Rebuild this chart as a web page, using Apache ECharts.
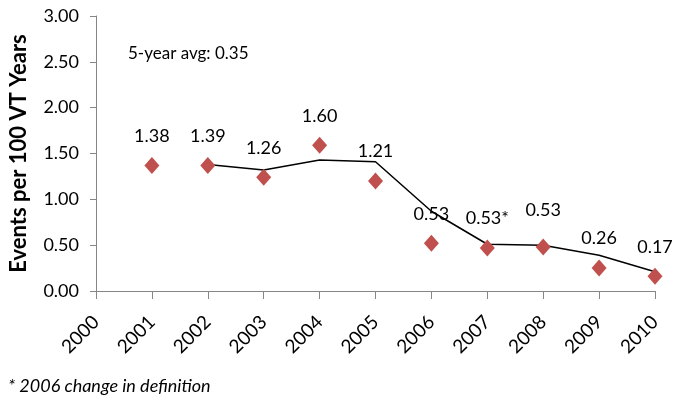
<!DOCTYPE html>
<html><head><meta charset="utf-8">
<script src="https://cdn.jsdelivr.net/npm/echarts@6/dist/echarts.min.js"></script>
<style>html,body{margin:0;padding:0;background:#fff}#c{width:673px;height:402px}</style>
</head><body><div id="c"></div>
<script>
var years = ['2000','2001','2002','2003','2004','2005','2006','2007','2008','2009','2010'];
var eventRates = [null,1.37,1.37,1.24,1.59,1.20,0.52,0.47,0.48,0.25,0.16];
var rateLabels = ['','1.38','1.39','1.26','1.60','1.21','0.53','0.53*','0.53','0.26','0.17'];
var movingAvg = [null,null,1.38,1.32,1.43,1.41,0.87,0.51,0.50,0.39,0.21];
var yTicks = [0,0.5,1,1.5,2,2.5,3];

var font = 'Lato, "Liberation Sans", sans-serif';
var scatterData = eventRates.map(function(v,i){
  var d = {value:v};
  if (i === 8) d.label = {offset:[0,-7]};
  return d;
});
var chart = echarts.init(document.getElementById('c'));
chart.setOption({
  animation:false,
  backgroundColor:'#fff',
  grid:{left:96,right:18,top:16,bottom:111},
  xAxis:{type:'category',data:years,boundaryGap:false,
    axisLine:{lineStyle:{color:'#868686',width:1}},
    axisTick:{show:true,length:8,lineStyle:{color:'#868686'}},
    axisLabel:{rotate:45,color:'#000',fontSize:19,fontFamily:font,margin:28,interval:0}},
  yAxis:{type:'value',min:yTicks[0],max:yTicks[yTicks.length-1],interval:0.5,
    name:'Events per 100 VT Years',nameLocation:'middle',nameGap:66,
    nameTextStyle:{fontSize:22,fontWeight:'bold',color:'#000',fontFamily:font},
    splitLine:{show:false},
    axisLine:{show:true,lineStyle:{color:'#868686'}},
    axisTick:{show:true,length:6,lineStyle:{color:'#868686'}},
    axisLabel:{color:'#000',fontSize:18,fontFamily:font,margin:17,formatter:function(v){return v.toFixed(2);}}},
  series:[
    {type:'line',data:movingAvg,symbol:'none',lineStyle:{color:'#000',width:1.5},connectNulls:false,z:2},
    {type:'scatter',data:scatterData,symbol:'diamond',symbolSize:[15,17],itemStyle:{color:'#C0504D',opacity:1},z:3,
      label:{show:true,position:'top',distance:12,color:'#000',fontSize:18,fontFamily:font,
        formatter:function(p){return rateLabels[p.dataIndex];}}}
  ],
  graphic:[
    {type:'text',left:128,top:45,style:{text:'5-year avg: 0.35',font:'17px '+font,fill:'#000'}},
    {type:'text',left:8,top:377,style:{text:'* 2006 change in definition',font:'italic 18px '+font,fill:'#000'}}
  ]
});
</script></body></html>
